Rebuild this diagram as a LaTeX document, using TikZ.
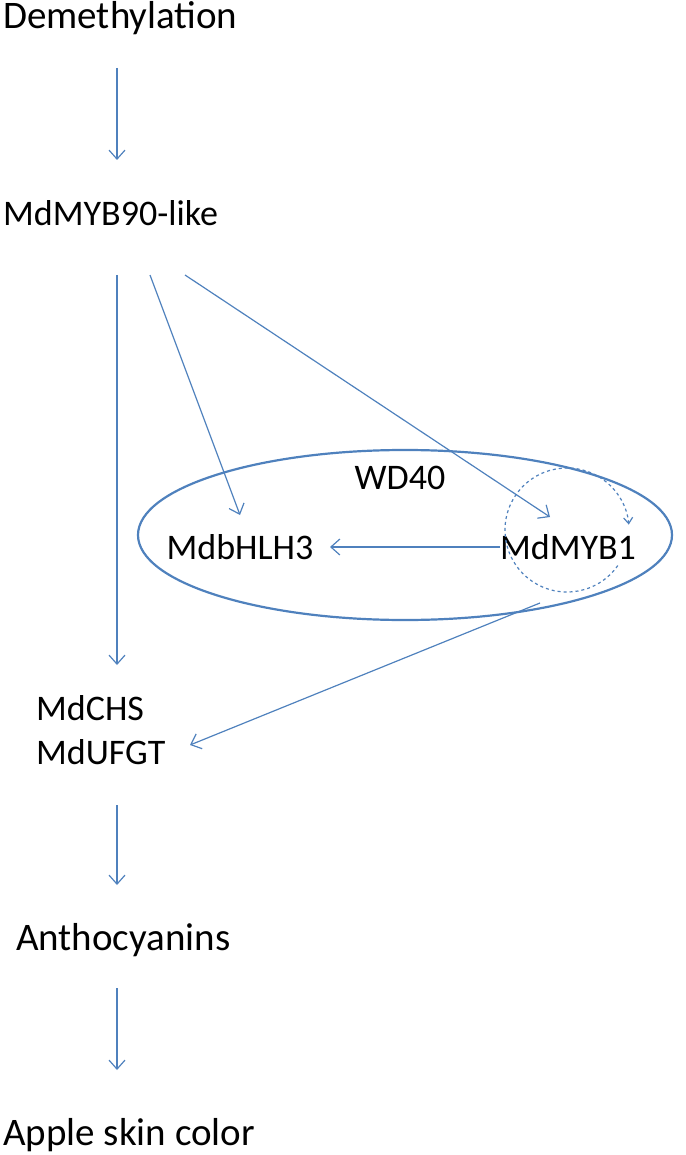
\documentclass[tikz,border=0pt]{standalone}
\usepackage{fontspec}
\setmainfont{Carlito}
\usetikzlibrary{arrows.meta}
\definecolor{ar}{RGB}{79,129,189}
\begin{document}
\begin{tikzpicture}[x=1pt,y=-1pt,
  lbl/.style={font=\fontsize{36}{44}\selectfont,inner sep=0pt,anchor=west},
  big/.style={font=\fontsize{39}{44}\selectfont},
  conn/.style={ar,line width=1.2pt,-{Straight Barb[length=9pt,width=16pt]}}]
\useasboundingbox (0,0) rectangle (685,1155);
\node[lbl,big] (dem) at (3,18) {Demethylation};
\node[lbl] (myb90) at (3,213) {MdMYB90-like};
\node[lbl,anchor=center] (wd) at (400,478) {WD40};
\node[lbl,anchor=center] (bhlh) at (240,547) {MdbHLH3};
\node[lbl,anchor=center] (myb1) at (568,547) {MdMYB1};
\node[lbl,align=left] (chs) at (36,730) {MdCHS\\MdUFGT};
\node[lbl,big] (antho) at (16,940) {Anthocyanins};
\node[lbl,big] (apple) at (3,1135) {Apple skin color};
\draw[ar,line width=2.2pt] (405,535) ellipse[x radius=267, y radius=85];
\coordinate (a1) at (117,68); \coordinate (a2) at (117,160);
\draw[conn] (a1) -- (a2);
\coordinate (b1) at (117,275); \coordinate (b2) at (117,665);
\draw[conn] (b1) -- (b2);
\coordinate (c1) at (150,275); \coordinate (c2) at (240,515);
\draw[conn] (c1) -- (c2);
\coordinate (d1) at (185,275); \coordinate (d2) at (550,517);
\draw[conn] (d1) -- (d2);
\coordinate (e1) at (500,547); \coordinate (e2) at (330,547);
\draw[conn] (e1) -- (e2);
\coordinate (f1) at (540,603); \coordinate (f2) at (190,745);
\draw[conn] (f1) -- (f2);
\coordinate (g1) at (117,805); \coordinate (g2) at (117,885);
\draw[conn] (g1) -- (g2);
\coordinate (h1) at (117,988); \coordinate (h2) at (117,1070);
\draw[conn] (h1) -- (h2);
\draw[ar,line width=1.2pt,dashed,-{Straight Barb[length=6pt,width=9pt]}]
  (567,530) ++(35:62) arc[start angle=35, end angle=355, radius=62];
\end{tikzpicture}
\end{document}
